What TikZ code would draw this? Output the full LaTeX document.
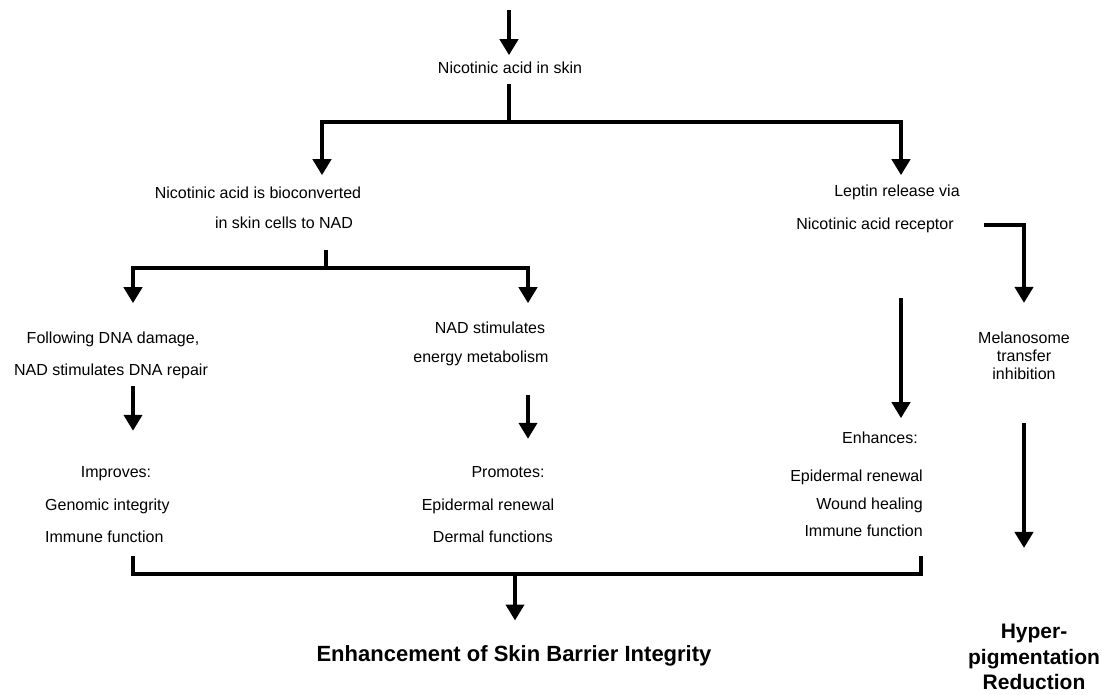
\documentclass[tikz,border=0pt]{standalone}
\usepackage{fontspec}
\setmainfont{Liberation Sans}
\usepackage{tikz}
\usetikzlibrary{arrows.meta}
\tikzstyle{txt}=[inner sep=0pt, anchor=base, font=\fontsize{16}{19}\selectfont]
\tikzstyle{res}=[inner sep=0pt, align=center, font=\fontsize{21}{25.5}\selectfont\bfseries]
\tikzstyle{bar}=[line width=4pt]
\tikzstyle{flow}=[line width=4pt, -{Triangle[width=18pt,length=16pt]}]

\begin{document}
\begin{tikzpicture}[x=1pt, y=-1pt]
    \useasboundingbox (0,0) rectangle (1109,694);
    % texts
    \node[txt] (skin) at (510,73) {Nicotinic acid in skin};
    \node[txt] (bio1) at (258,198) {Nicotinic acid is bioconverted};
    \node[txt] (bio2) at (284,228) {in skin cells to NAD};
    \node[txt] (lep1) at (897,196) {Leptin release via};
    \node[txt] (lep2) at (875,229) {Nicotinic acid receptor};
    \node[txt] (dna1) at (113,343) {Following DNA damage,};
    \node[txt] (dna2) at (111,375) {NAD stimulates DNA repair};
    \node[txt] (nrg1) at (490,333) {NAD stimulates};
    \node[txt] (nrg2) at (481,362) {energy metabolism};
    \node[txt, align=center, anchor=center, font=\fontsize{16}{18}\selectfont] (mel) at (1024,356) {Melanosome\\transfer\\inhibition};
    \node[txt] (imp1) at (116,477) {Improves:};
    \node[txt, anchor=base west] (imp2) at (45,510) {Genomic integrity};
    \node[txt, anchor=base west] (imp3) at (45,542) {Immune function};
    \node[txt] (pro1) at (508,477) {Promotes:};
    \node[txt] (pro2) at (488,510) {Epidermal renewal};
    \node[txt] (pro3) at (493,542) {Dermal functions};
    \node[txt, anchor=base east] (enh1) at (918,443) {Enhances:};
    \node[txt, anchor=base east] (enh2) at (923,481) {Epidermal renewal};
    \node[txt, anchor=base east] (enh3) at (923,509) {Wound healing};
    \node[txt, anchor=base east] (enh4) at (923,536) {Immune function};
    \node[res, font=\fontsize{22}{26}\selectfont\bfseries] (barrier) at (514,656) {Enhancement of Skin Barrier Integrity};
    \node[res] (hyper) at (1034,657) {Hyper-\\pigmentation\\Reduction};
    % junctions
    \coordinate (top) at (509,10);
    \coordinate (j1) at (509,122);
    \coordinate (jl) at (322,122);
    \coordinate (jr) at (901,122);
    \coordinate (b2) at (326,268);
    \coordinate (bl) at (133,268);
    \coordinate (br) at (528,268);
    \coordinate (k1) at (133,574);
    \coordinate (k0) at (515,574);
    \coordinate (k2) at (921,574);
    % connectors
    \draw[flow, shorten >=6pt] (top) -- (top |- skin.north);
    \draw[bar, shorten <=11pt] (j1 |- skin.south) -- (j1);
    \draw[flow, shorten >=11pt] (jr) -- (jl) -- (jl |- bio1.north);
    \draw[flow, shorten >=9pt] (jl) -- (jr) -- (jr |- lep1.north);
    \draw[bar, shorten <=22pt] (b2 |- bio2.south) -- (b2);
    \draw[flow, shorten >=28pt] (br) -- (bl) -- (bl |- dna1.north);
    \draw[flow, shorten >=18pt] (bl) -- (br) -- (br |- nrg1.north);
    \draw[flow, shorten <=30pt, shorten >=29pt] (lep2.east) -- (lep2.east -| mel.north) -- (mel.north);
    \draw[flow, shorten <=65pt, shorten >=13pt] (jr |- lep2.south) -- (jr |- enh1.north);
    \draw[flow, shorten <=43pt, shorten >=76pt] (mel.south) -- (mel.south |- hyper.north);
    \draw[flow, shorten <=7pt, shorten >=35pt] (bl |- dna2.south) -- (bl |- imp1.north);
    \draw[flow, shorten <=29pt, shorten >=27pt] (br |- nrg2.south) -- (br |- pro1.north);
    \draw[bar, shorten <=14pt, shorten >=20pt] (k1 |- imp3.south) -- (k1) -- (k2) -- (k2 |- enh4.south);
    \draw[flow, shorten >=25pt] (k0) -- (k0 |- barrier.north);
\end{tikzpicture}
\end{document}
